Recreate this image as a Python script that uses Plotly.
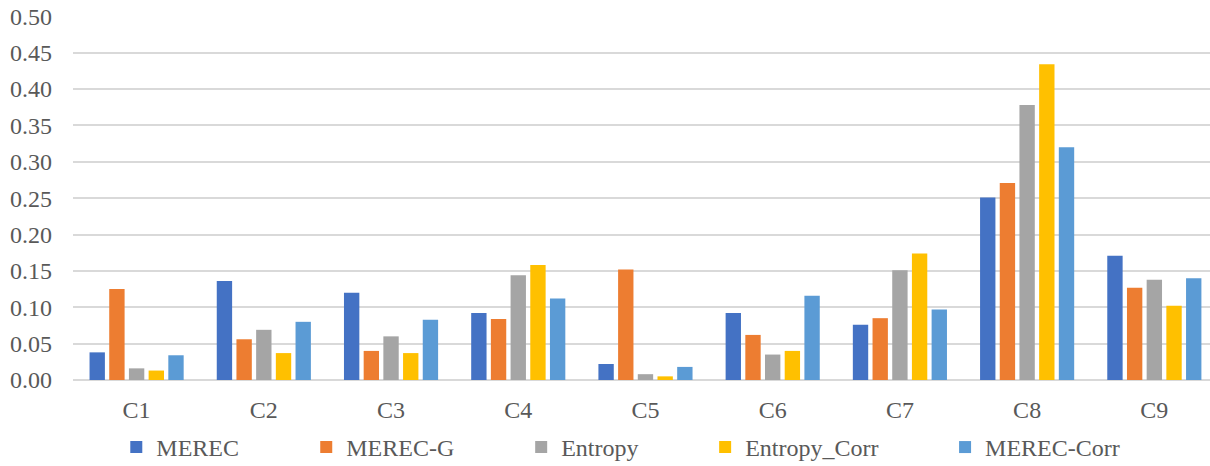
import plotly.graph_objects as go

categories = ["C1", "C2", "C3", "C4", "C5", "C6", "C7", "C8", "C9"]
merec = [0.038, 0.136, 0.120, 0.092, 0.022, 0.092, 0.076, 0.251, 0.171]
merec_g = [0.125, 0.056, 0.040, 0.084, 0.152, 0.062, 0.085, 0.271, 0.127]
entropy = [0.016, 0.069, 0.060, 0.144, 0.008, 0.035, 0.151, 0.378, 0.138]
entropy_corr = [0.013, 0.037, 0.037, 0.158, 0.005, 0.040, 0.174, 0.434, 0.102]
merec_corr = [0.034, 0.080, 0.083, 0.112, 0.018, 0.116, 0.097, 0.320, 0.140]

series_names = ["MEREC", "MEREC-G", "Entropy", "Entropy_Corr", "MEREC-Corr"]
series_values = [merec, merec_g, entropy, entropy_corr, merec_corr]
colors = ["#4472C4", "#ED7D31", "#A5A5A5", "#FFC000", "#5B9BD5"]
y_ticks = [0.0, 0.05, 0.10, 0.15, 0.20, 0.25, 0.30, 0.35, 0.40, 0.45, 0.50]

W, H = 1210, 466
ML, MR, MT, MB = 72.7, 0, 16.3, 85.5
plot_w = W - ML - MR
plot_h = H - MT - MB
cat_w = 127.25
x_max = -0.5 + plot_w / cat_w

# legend symbol centre positions (px)
leg_px = [136, 326, 541, 725, 965]
leg_y_px = 448

font = "Liberation Serif"
txt_col = "#595959"
fs = 24

fig = go.Figure()
legend_keys = ["legend", "legend2", "legend3", "legend4", "legend5"]
for name, vals, col, lk in zip(series_names, series_values, colors, legend_keys):
    fig.add_trace(go.Bar(
        x=categories, y=vals, name=name,
        marker=dict(color=col, line=dict(width=0)),
        legend=lk,
    ))

layout_legends = {}
for lk, px in zip(legend_keys, leg_px):
    layout_legends[lk] = dict(
        x=(px - 20 - ML) / plot_w, xanchor="left",
        y=(MT + plot_h - leg_y_px) / plot_h, yanchor="middle",
        orientation="h",
        font=dict(family=font, size=fs, color=txt_col),
        bgcolor="rgba(0,0,0,0)", borderwidth=0,
        itemwidth=30, tracegroupgap=0,
    )

fig.update_layout(
    width=W, height=H,
    margin=dict(l=ML, r=MR, t=MT, b=MB, pad=0, autoexpand=False),
    paper_bgcolor="white", plot_bgcolor="white",
    barmode="group", bargap=0.226, bargroupgap=0.22,
    showlegend=True,
    font=dict(family=font, size=fs, color=txt_col),
    xaxis=dict(
        range=[-0.5, x_max], showgrid=False, zeroline=False, automargin=False,
        showline=False, ticks="", tickfont=dict(family=font, size=fs, color=txt_col),
        ticklabelstandoff=13,
    ),
    yaxis=dict(
        range=[0, 0.5005], tickvals=y_ticks, automargin=False,
        ticktext=[f"{v:.2f}" for v in y_ticks],
        showgrid=True, gridcolor="#D9D9D9", gridwidth=1.5,
        zeroline=True, zerolinecolor="#D9D9D9", zerolinewidth=1.5,
        showline=False, ticks="", tickfont=dict(family=font, size=fs, color=txt_col),
        ticklabelstandoff=20,
    ),
    **layout_legends,
)

fig.write_html(
    "out.html",
    config={"displayModeBar": False},
    post_script="document.body.style.margin='0';document.body.style.overflow='hidden';",
)
